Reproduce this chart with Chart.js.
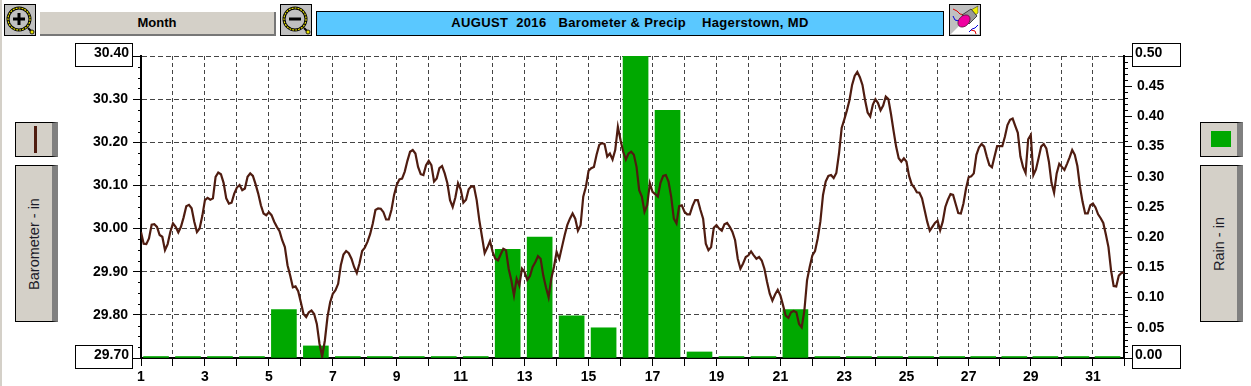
<!DOCTYPE html>
<html lang="en">
<head>
<meta charset="UTF-8">
<title>AUGUST 2016 Barometer & Precip Hagerstown, MD</title>
<script src="https://cdn.jsdelivr.net/npm/chart.js"></script>
<style>
    body { margin: 0; background: #fff; font-family: 'Liberation Sans', sans-serif; overflow: hidden; }
    #page { position: relative; width: 1251px; height: 386px; overflow: hidden; }
    #page > * { position: absolute; box-sizing: border-box; }
    canvas { left: 0; top: 0; }
    .edge { left: 0; top: 0; width: 2px; height: 386px; background: #d4d0c8; }
    .icon { width: 32px; height: 32px; top: 4px; }
    .month { left: 40px; top: 12px; width: 236px; height: 24px; background: #d4d0c8; border-right: 2px solid #777; border-bottom: 2px solid #777;
        font: bold 13px 'Liberation Sans'; text-align: center; line-height: 22px; color: #000; }
    .title { left: 316px; top: 11px; width: 628px; height: 25px; background: #5ac8ff; border: 1px solid #000;
        font: bold 13px 'Liberation Sans'; letter-spacing: 0.35px; text-align: center; line-height: 22px; color: #000; white-space: pre; }
    .panel { width: 43px; background: #d4d0c8; border: 1px solid #000; border-right: 6px solid #808080; outline: 0; }
    .panel span { position: absolute; left: 18px; top: 50%; transform: translate(-50%, -50%) rotate(-90deg); white-space: nowrap; font: 14.5px 'Liberation Sans'; color: #1c1c28; }
    .swatch-line { left: 18px; top: 3px; width: 3px; height: 27px; background: #4f1c10; }
    .swatch-rain { left: 10px; top: 8px; width: 20px; height: 16px; background: #00a800; }
</style>
</head>
<body>
<div id="page">
    <div class="edge"></div>
    <svg class="icon" style="left:4px" viewBox="0 0 32 32">
        <rect x=".5" y=".5" width="31" height="31" fill="#c0c0c0" stroke="#000"/>
        <circle cx="15" cy="15" r="11" fill="#c0c0c0" stroke="#000" stroke-width="3"/>
        <circle cx="15" cy="15" r="11" fill="none" stroke="#e8e000" stroke-width="1.2" stroke-dasharray="2 1"/>
        <path d="M9 15h12M15 9v12" stroke="#000" stroke-width="3"/>
        <path d="M24 24l3 3" stroke="#000" stroke-width="2"/>
        <circle cx="28" cy="28" r="2" fill="#e8e000" stroke="#000" stroke-width=".8"/>
    </svg>
    <div class="month">Month</div>
    <svg class="icon" style="left:280px" viewBox="0 0 32 32">
        <rect x=".5" y=".5" width="31" height="31" fill="#c0c0c0" stroke="#000"/>
        <circle cx="15" cy="15" r="11" fill="#c0c0c0" stroke="#000" stroke-width="3"/>
        <circle cx="15" cy="15" r="11" fill="none" stroke="#e8e000" stroke-width="1.2" stroke-dasharray="2 1"/>
        <path d="M9 15h12" stroke="#000" stroke-width="3"/>
        <path d="M24 24l3 3" stroke="#000" stroke-width="2"/>
        <circle cx="28" cy="28" r="2" fill="#e8e000" stroke="#000" stroke-width=".8"/>
    </svg>
    <div class="title">AUGUST  2016   Barometer &amp; Precip    Hagerstown, MD</div>
    <svg class="icon" style="left:949px" viewBox="0 0 32 32">
        <rect x=".5" y=".5" width="31" height="31" fill="#c0c0c0" stroke="#000"/>
        <path d="M2 30L30 2V30Z" fill="#fff"/>
        <path d="M4 5l4 2 3 3 5 1" fill="none" stroke="#e00000"/>
        <path d="M4 12l2 4 4 1M20 28l3-3 3-1 3-3" fill="none" stroke="#0000e0"/>
        <path d="M22 26l4 1 1 3" fill="none" stroke="#e00000"/>
        <path d="M22 6l7-4v7l-5 4z" fill="#f0f000" stroke="#333" stroke-width=".6"/>
        <path d="M13 11l9-6 6 7-8 8z" fill="#999" stroke="#222" stroke-width=".8"/>
        <ellipse cx="15" cy="17" rx="5" ry="7" transform="rotate(45 15 17)" fill="#f000a0" stroke="#601040" stroke-width=".8"/>
    </svg>
    <div class="panel" style="left:15px;top:122px;height:35px"><div class="swatch-line" style="position:absolute"></div></div>
    <div class="panel" style="left:15px;top:165px;height:157px"><span>Barometer - in</span></div>
    <div class="panel" style="left:1200px;top:122px;height:35px"><div class="swatch-rain" style="position:absolute"></div></div>
    <div class="panel" style="left:1200px;top:165px;height:157px"><span>Rain - in</span></div>
    <canvas id="chart" width="1251" height="386"></canvas>
</div>

<script>
const dayTicks = [1,2,3,4,5,6,7,8,9,10,11,12,13,14,15,16,17,18,19,20,21,22,23,24,25,26,27,28,29,30,31,32];
const rainDays = [1,2,3,4,5,6,7,8,9,10,11,12,13,14,15,16,17,18,19,20,21,22,23,24,25,26,27,28,29,30,31];
const rainValues = [0,0,0,0,0.08,0.02,0,0,0,0,0,0.18,0.20,0.07,0.05,0.50,0.41,0.01,0,0,0.08,0,0,0,0,0,0,0,0,0,0];

// one reading every 2 hours, starting at day 1
const samplesPerDay = 12;
const baroValues = [
    29.992,29.965,29.964,29.977,30.009,30.010,30.004,29.985,29.981,29.950,29.964,29.992,
    30.012,30.004,29.991,30.004,30.026,30.052,30.055,30.047,30.016,29.992,30.000,30.029,
    30.066,30.071,30.067,30.070,30.120,30.130,30.126,30.106,30.070,30.058,30.060,30.081,
    30.095,30.101,30.089,30.093,30.120,30.128,30.122,30.103,30.081,30.054,30.035,30.031,
    30.038,30.031,30.016,30.004,29.994,29.973,29.957,29.915,29.891,29.864,29.866,29.855,
    29.829,29.802,29.795,29.806,29.810,29.802,29.779,29.733,29.703,29.740,29.795,29.829,
    29.849,29.857,29.872,29.915,29.940,29.948,29.943,29.930,29.911,29.897,29.919,29.948,
    29.956,29.969,29.987,30.012,30.043,30.047,30.046,30.038,30.021,30.021,30.043,30.078,
    30.101,30.114,30.116,30.132,30.157,30.178,30.182,30.174,30.143,
    30.126,30.124,30.147,30.157,30.147,30.109,30.116,30.140,30.145,30.128,30.105,30.066,
    30.050,30.072,30.105,30.091,30.060,30.067,30.091,30.098,30.097,30.066,30.019,29.981,
    29.943,29.956,29.971,29.946,29.930,29.926,29.940,29.953,29.950,29.907,29.880,29.845,
    29.884,29.868,29.907,29.899,29.881,29.890,29.911,29.922,29.936,29.930,29.891,29.864,
    29.841,29.884,29.911,29.946,29.930,29.957,29.984,30.008,30.023,30.035,30.023,29.995,
    30.008,30.074,30.097,30.134,30.140,30.143,30.171,30.194,30.198,30.196,30.167,30.174,
    30.160,30.182,30.236,30.205,30.178,30.160,30.174,30.178,30.171,30.143,30.089,30.074,
    30.039,30.054,30.105,30.085,30.080,30.074,30.106,30.122,30.124,30.109,30.074,30.023,
    30.012,30.052,30.054,30.039,30.033,30.033,30.052,30.066,30.066,30.043,30.023,29.965,
    29.950,29.957,30.002,30.008,30.000,29.995,30.010,30.013,30.004,29.992,29.973,29.930,
    29.907,29.919,29.934,29.938,29.947,29.938,29.930,29.934,29.926,29.907,29.876,29.849,
    29.833,29.847,29.858,29.845,29.822,29.798,29.793,29.806,29.809,29.806,29.779,29.771,
    29.810,29.880,29.911,29.938,29.948,29.977,30.016,
    30.078,30.109,30.122,30.124,30.117,30.129,30.174,30.233,30.253,30.274,30.298,30.333,
    30.354,30.363,30.351,30.333,30.298,30.269,30.260,30.287,30.300,30.291,30.274,30.285,
    30.306,30.300,30.266,30.227,30.190,30.163,30.155,30.163,30.155,30.122,30.103,30.095,
    30.084,30.083,30.070,30.043,30.016,29.995,30.004,30.013,30.018,29.996,30.016,30.050,
    30.067,30.080,30.078,30.057,30.036,30.035,30.058,30.093,30.119,30.121,30.128,30.171,
    30.188,30.196,30.190,30.167,30.147,30.142,30.167,30.191,30.191,30.191,30.213,30.240,
    30.252,30.255,30.238,30.222,30.167,30.143,30.129,30.207,30.217,30.124,30.137,30.163,
    30.190,30.196,30.186,30.155,30.106,30.083,30.128,30.150,30.143,30.136,30.150,30.165,
    30.182,30.171,30.145,30.097,30.062,30.035,30.035,30.054,30.058,30.049,30.033,30.024,
    30.013,29.986,29.957,29.903,29.867,29.866,29.891,29.897,29.898
];

const baroMin = 29.70, baroMax = 30.40;
const rainMin = 0, rainMax = 0.50;
const tickFont = { family: "'Liberation Sans'", size: 14, weight: 'bold' };

// the source chart squeezes its days from the 23rd on
function dayPos(day) {
    return day <= 23 ? day : 23 + (day - 23) * 0.972;
}

// short ticks between the numbered ones, and the boxed end labels
const axisExtras = {
    id: 'axisExtras',
    afterDraw(chart) {
        const ctx = chart.ctx, left = chart.scales.yBaro, right = chart.scales.yRain, area = chart.chartArea;
        ctx.save();
        ctx.strokeStyle = '#000';
        ctx.lineWidth = 1;
        ctx.beginPath();
        for (let k = 1; k < 28; k++) {
            if (k % 4 === 0) continue;
            const y = Math.round(left.getPixelForValue(baroMin + k * 0.025)) + 0.5;
            ctx.moveTo(area.left - 3, y);
            ctx.lineTo(area.left, y);
        }
        for (let k = 1; k < 50; k++) {
            if (k % 5 === 0) continue;
            const y = Math.round(right.getPixelForValue(k * 0.01)) + 0.5;
            ctx.moveTo(area.right, y);
            ctx.lineTo(area.right + 4, y);
        }
        ctx.stroke();

        ctx.font = "bold 14px 'Liberation Sans'";
        ctx.textBaseline = 'middle';
        [[baroMax, 44], [baroMin, 346]].forEach(([v, top]) => {
            ctx.fillStyle = '#fff';
            ctx.fillRect(75.5, top - 0.5, 57, 23);
            ctx.strokeRect(75.5, top - 0.5, 57, 23);
            ctx.fillStyle = '#000';
            ctx.textAlign = 'right';
            ctx.fillText(v.toFixed(2), 129, top + 9.5);
        });
        [[rainMax, 44], [rainMin, 346]].forEach(([v, top]) => {
            ctx.fillStyle = '#fff';
            ctx.fillRect(1132.5, top - 0.5, 48, 23);
            ctx.strokeRect(1132.5, top - 0.5, 48, 23);
            ctx.fillStyle = '#000';
            ctx.textAlign = 'left';
            ctx.fillText(v.toFixed(2), 1135, top + 9.5);
        });
        ctx.restore();
    }
};

new Chart(document.getElementById('chart'), {
    type: 'line',
    plugins: [axisExtras],
    data: {
        datasets: [{
            type: 'line',
            order: 0,
            xAxisID: 'x',
            yAxisID: 'yBaro',
            data: baroValues.map((v, i) => ({ x: dayPos(1 + i / samplesPerDay), y: v })),
            borderColor: '#4f1c10',
            borderWidth: 2.2,
            pointRadius: 0,
            tension: 0
        }, {
            type: 'bar',
            order: 1,
            xAxisID: 'x',
            yAxisID: 'yRain',
            data: rainDays.map((d, i) => ({ x: dayPos(d + 0.47), y: rainValues[i] })),
            backgroundColor: '#00a800',
            barThickness: 25,
            minBarLength: 1.5
        }]
    },
    options: {
        responsive: false,
        animation: false,
        layout: { padding: { top: 56 } },
        plugins: { legend: { display: false }, tooltip: { enabled: false } },
        scales: {
            x: {
                type: 'linear',
                min: 1,
                max: dayPos(32),
                offset: false,
                afterBuildTicks: s => { s.ticks = dayTicks.map(d => ({ value: dayPos(d) })); },
                afterFit: s => { s.height = 28; },
                grid: { offset: false, color: '#444', lineWidth: 1, tickLength: 8, tickColor: '#000', tickBorderDash: [], tickWidth: 1 },
                border: { display: true, color: '#000', width: 2, dash: [4, 3] },
                ticks: {
                    autoSkip: false, maxRotation: 0, padding: 3, color: '#000', font: tickFont,
                    callback: (v, i) => (i % 2 === 0 && i < 31 ? String(dayTicks[i]) : '')
                }
            },
            yBaro: {
                position: 'left',
                min: baroMin,
                max: baroMax,
                afterFit: s => { s.width = 141; },
                afterBuildTicks: s => { s.ticks = [30.4, 30.3, 30.2, 30.1, 30.0, 29.9, 29.8, 29.7].map(v => ({ value: v })); },
                grid: { color: '#444', lineWidth: 1, tickLength: 8, tickColor: '#000', tickBorderDash: [], tickWidth: 1 },
                border: { display: true, color: '#000', width: 2, dash: [5, 3] },
                ticks: {
                    autoSkip: false, padding: 5, color: '#000', font: tickFont,
                    callback: v => (v > 29.75 && v < 30.35 ? v.toFixed(2) : '')
                }
            },
            yRain: {
                position: 'right',
                min: rainMin,
                max: rainMax,
                afterFit: s => { s.width = 127; },
                afterBuildTicks: s => { s.ticks = [0, 0.05, 0.1, 0.15, 0.2, 0.25, 0.3, 0.35, 0.4, 0.45, 0.5].map(v => ({ value: v })); },
                grid: { drawOnChartArea: false, tickLength: 8, tickColor: '#000', tickWidth: 1 },
                border: { display: true, color: '#000', width: 2 },
                ticks: {
                    autoSkip: false, padding: 5, color: '#000', font: tickFont,
                    callback: v => (v > 0.01 && v < 0.49 ? v.toFixed(2) : '')
                }
            }
        }
    }
});
</script>
</body>
</html>
